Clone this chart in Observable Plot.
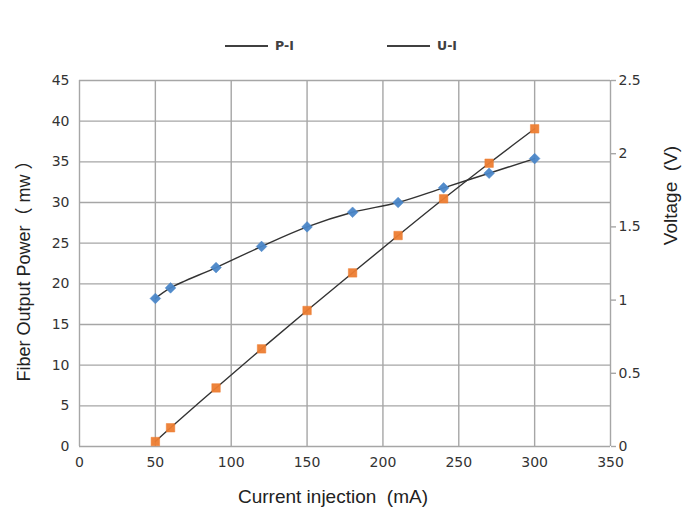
<!DOCTYPE html>
<html>
<head>
<meta charset="utf-8">
<script src="https://cdn.jsdelivr.net/npm/d3@7"></script>
<script src="https://cdn.jsdelivr.net/npm/@observablehq/plot@0.6"></script>
<style>
  html, body { margin: 0; padding: 0; background: #fff; }
  #wrap { position: relative; width: 695px; height: 516px; overflow: hidden; }
  #legend { position: absolute; top: 38px; left: 0; width: 695px; height: 16px;
            font-family: "DejaVu Sans", sans-serif; font-size: 12.5px; font-weight: bold; color: #404040; }
  .item { position: absolute; top: 0; display: flex; align-items: center; }
  .sw { display: inline-block; width: 43px; height: 0; border-top: 2px solid #404040; margin-right: 7px; }
</style>
</head>
<body>
<div id="wrap">
  <div id="legend"></div>
  <div id="chart"></div>
</div>
<script>
// Data
const current = [50, 60, 90, 120, 150, 180, 210, 240, 270, 300];          // mA
const power   = [18.2, 19.5, 22.0, 24.6, 27.0, 28.8, 30.0, 31.8, 33.6, 35.4]; // mW (left axis)
const voltage = [0.034, 0.128, 0.40, 0.667, 0.929, 1.186, 1.441, 1.692, 1.935, 2.17]; // V (right axis)

const xTicks = [0, 50, 100, 150, 200, 250, 300, 350];
const yTicks = [0, 5, 10, 15, 20, 25, 30, 35, 40, 45];
const vTicks = [0, 0.5, 1, 1.5, 2, 2.5];
const seriesNames = ["P-I", "U-I"];

const yMax = 45, vMax = 2.5, k = yMax / vMax;

const piData = current.map((c, i) => ({c, p: power[i]}));
const uiData = current.map((c, i) => ({c, v: voltage[i]}));

const legend = document.getElementById("legend");
const legendX = [225, 387];
seriesNames.forEach((n, i) => {
  const d = document.createElement("div");
  d.className = "item";
  d.style.left = legendX[i] + "px";
  d.innerHTML = `<span class="sw"></span><span>${n}</span>`;
  legend.appendChild(d);
});

const grid = "#a6a6a6";
const titleFont = "Liberation Sans, Arial, Noto Sans CJK SC, sans-serif";
const chart = Plot.plot({
  width: 695,
  height: 516,
  marginLeft: 79,
  marginRight: 85,
  marginTop: 80,
  marginBottom: 70,
  style: {fontFamily: "DejaVu Sans, sans-serif", fontSize: "14px", color: "#333", background: "#fff"},
  x: {domain: [0, 350]},
  y: {domain: [0, yMax]},
  marks: [
    Plot.gridX(xTicks, {stroke: grid, strokeOpacity: 1, strokeWidth: 1.4}),
    Plot.gridY(yTicks, {stroke: grid, strokeOpacity: 1, strokeWidth: 1.4}),
    Plot.axisX({ticks: xTicks, tickSize: 0, tickPadding: 11, label: null, fill: "#333"}),
    Plot.axisY({ticks: yTicks, tickSize: 0, tickPadding: 10, label: null, fill: "#333"}),
    Plot.axisY({anchor: "right", ticks: vTicks.map(v => v * k), tickFormat: d => String(+(d / k).toFixed(2)),
                tickSize: 5, tickPadding: 3, stroke: grid, strokeWidth: 1.4, label: null, fill: "#333"}),
    Plot.line(piData, {x: "c", y: "p", curve: "catmull-rom", stroke: "#333", strokeWidth: 1.4}),
    Plot.line(uiData, {x: "c", y: d => d.v * k, curve: "catmull-rom", stroke: "#333", strokeWidth: 1.4}),
    Plot.dot(piData, {x: "c", y: "p", symbol: "diamond2", r: 4.8, fill: "#4a86c8", stroke: "#4a86c8", strokeWidth: 0.5, fillOpacity: 0.95}),
    Plot.dot(uiData, {x: "c", y: d => d.v * k, symbol: "square2", r: 5.4, fill: "#ed7d31", stroke: "#ed7d31", strokeWidth: 0.5, fillOpacity: 0.95}),
    Plot.text(["Current injection  (mA)"], {frameAnchor: "bottom", dx: -12, dy: 56, fontSize: 19, fontFamily: titleFont, fill: "#222"}),
    Plot.text(["Fiber Output Power（ mw ）"], {frameAnchor: "left", textAnchor: "middle", dx: -55, dy: 3, rotate: -90, fontSize: 18, fontFamily: titleFont, fill: "#222"}),
    Plot.text(["Voltage  (V)"], {frameAnchor: "right", textAnchor: "middle", dx: 60, dy: -68, rotate: -90, fontSize: 19, fontFamily: titleFont, fill: "#222"})
  ]
});
document.getElementById("chart").appendChild(chart);
</script>
</body>
</html>
